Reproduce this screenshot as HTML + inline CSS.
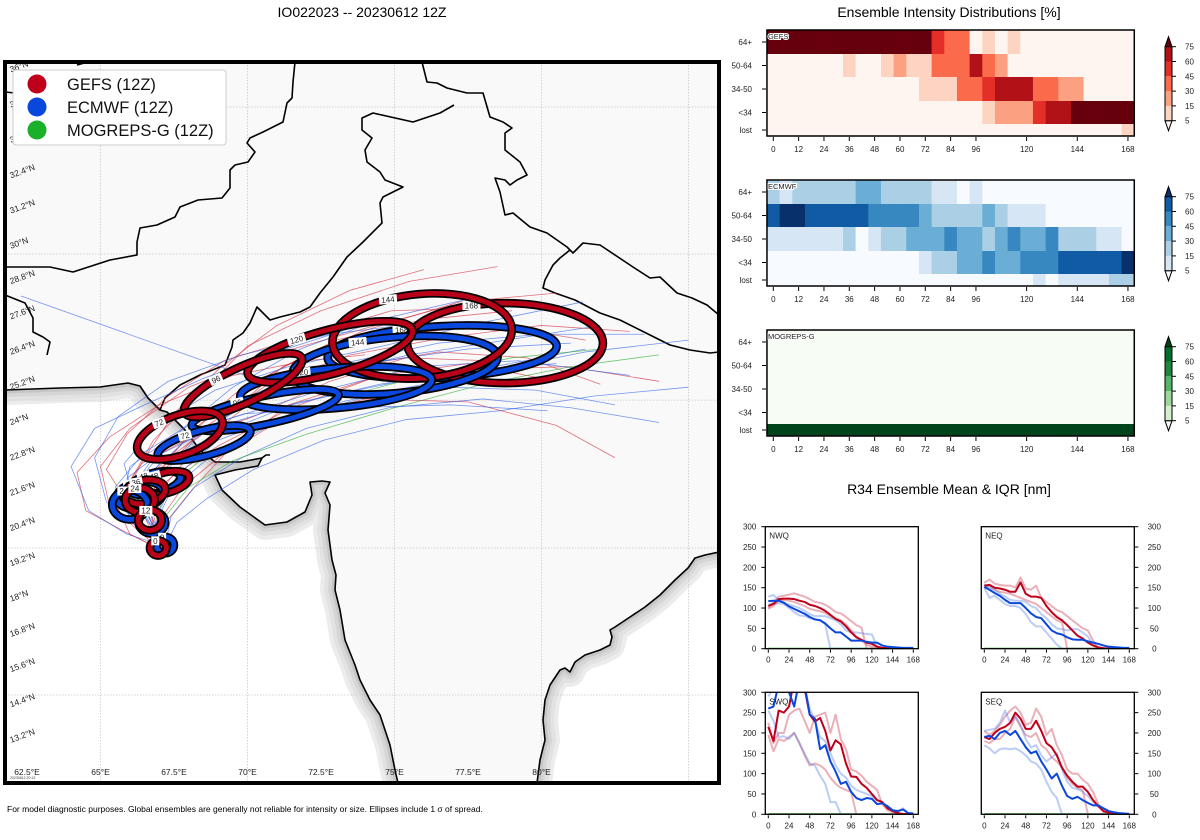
<!DOCTYPE html>
<html><head><meta charset="utf-8"><style>
html,body{margin:0;padding:0;background:#fff;}
svg{display:block;font-family:"Liberation Sans","DejaVu Sans",sans-serif;}
</style></head><body>
<svg id="root" width="1200" height="840" viewBox="0 0 1200 840" xmlns="http://www.w3.org/2000/svg">
<defs>
<clipPath id="mapclip"><rect x="5" y="62" width="714" height="721"/></clipPath>
</defs>
<text x="362" y="17" font-size="14" text-anchor="middle">IO022023 -- 20230612 12Z</text>
<text x="949" y="17" font-size="14" text-anchor="middle">Ensemble Intensity Distributions [%]</text>
<text x="949" y="494" font-size="14" text-anchor="middle">R34 Ensemble Mean &amp; IQR [nm]</text>
<text x="7" y="812" font-size="8.5">For model diagnostic purposes. Global ensembles are generally not reliable for intensity or size. Ellipses include 1 σ of spread.</text>
<g id="map"></g>
<g id="heat"></g>
<g id="r34"></g>
</svg>
<script>
const NS="http://www.w3.org/2000/svg";
function mk(tag,attrs,parent){const e=document.createElementNS(NS,tag);for(const k in attrs)e.setAttribute(k,attrs[k]);if(parent)parent.appendChild(e);return e;}
function pts(a){return a.map(p=>p[0]+","+p[1]).join(" ");}

// ---------------- MAP DATA ----------------
const lonTicks=[62.5,65,67.5,70,72.5,75,77.5,80];
const latTicks=[13.2,14.4,15.6,16.8,18,19.2,20.4,21.6,22.8,24,25.2,26.4,27.6,28.8,30,31.2,32.4,33.6,34.8,36];
const gridLons=[65,70,75,80,85];
const gridLats=[14.73,19.73,24.76,29.73,34.73];
const gefsEll=[ // lon,lat,rx(deg),ry(deg),rot,label
 [66.96,19.73,0.28,0.26,0,"0"],[66.68,20.68,0.4,0.35,0,"12"],[66.34,21.36,0.5,0.42,0,"24"],
 [66.51,21.64,0.7,0.4,-10,"36"],[67.19,21.94,0.85,0.35,-15,"48"],[67.7,23.57,1.53,0.68,-20,"72"],
 [69.85,25.27,2.2,0.61,-25,"96"],[72.81,26.4,2.9,0.75,-15,"120"],[75.94,26.94,3.06,1.43,-5,"144"],
 [78.76,26.7,3.33,1.36,0,"168"]];
const ecmEll=[
 [67.2,19.83,0.3,0.28,0,"0"],[66.75,20.6,0.45,0.38,0,"12"],[66.0,21.2,0.6,0.5,0,"24"],
 [66.34,21.53,0.8,0.45,-10,"36"],[66.85,21.94,0.9,0.35,-15,"48"],[68.52,23.3,1.63,0.44,-15,"72"],
 [70.6,24.42,2.55,0.48,-12,"96"],[73.01,25.17,3.27,0.68,-5,"120"],[75.02,25.95,3.5,0.95,-5,"144"],
 [76.62,26.4,3.9,0.88,-3,"168"]];
const gefsTracks=[
 [[67,19.7],[66.5,20.8],[66.2,21.6],[67,22.5],[68.5,24],[70.5,25.5],[73,26.8],[76,27.5],[79,27.8]],
 [[67,19.7],[66.8,20.6],[66.6,21.5],[67.5,22.2],[69,23.2],[71.5,24.5],[74.5,25.6],[77.5,26],[80,25.5]],
 [[67,19.7],[66.4,20.5],[65.8,21.5],[66.5,22.8],[67.5,24.3],[69,25.8],[71,27.3],[73.5,28.5],[76,29.2]],
 [[67,19.7],[66.9,20.9],[67.3,22],[68.2,23.1],[70,24.6],[73,25.8],[76.5,26.4],[79.5,26.2],[82,25.3]],
 [[67,19.7],[66.2,20.4],[65.3,21.2],[65,22.5],[66,23.8],[68,25.2],[70.5,26.2],[74,27.2],[77,28]],
 [[67,19.7],[66.6,21],[67,22.3],[68,23.6],[69.6,25],[72,26.3],[75,27],[78.5,27.3],[81.5,26.8]],
 [[67,19.7],[66.3,20.7],[66,22],[66.8,23.4],[68.2,24.8],[70,26.6],[72.5,27.8],[75.5,28.8],[78.5,29.3]],
 [[67,19.7],[67.1,20.8],[67.8,21.8],[69,22.8],[71,24],[74,24.8],[77.5,24.7],[80.5,23.9],[82.5,22.8]],
 [[67,19.7],[65.8,20.3],[64.5,21],[64.2,22.3],[65.3,23.5],[67,24.6],[69.5,25.6],[72,26.1],[74,26.3]],
 [[67,19.7],[66.7,20.9],[66.9,22.1],[68.5,23.8],[70.7,25.3],[73.5,26.3],[76.8,26.9],[80,27.3],[83,27.1]],
 [[67,19.7],[66,20.2],[65.5,21.3],[66.4,22.6],[67.9,23.4],[70.2,24.2],[72.8,25.4],[75.4,26.2],[78.2,26.1]],
 [[67,19.7],[66.9,20.5],[66.5,21.9],[67.6,23],[69.4,24.3],[71.2,25.9],[73.9,27.1],[77.2,28.1],[80.5,28.4]],
 [[67,19.7],[66.1,21],[65.2,22.4],[65.9,23.6],[67.3,24.9],[69.2,26.1],[71.8,26.9],[74.9,27.8],[78,27.9]],
 [[67,19.7],[67.3,20.7],[68.1,21.7],[69.3,23],[71.4,24.6],[74.2,25.5],[77.6,25.8],[80.9,25.9],[84,25.4]]];
const ecmTracks=[
 [[67.2,19.8],[66.6,20.7],[66.2,21.5],[67,22.6],[69,23.6],[71.5,24.6],[74.5,25.3],[77.5,25.8],[80.5,26]],
 [[67.2,19.8],[66,20.8],[65.5,21.8],[66.5,23],[68.5,24.2],[71,25.3],[74,26],[77.5,26.5],[81,26.7]],
 [[67.2,19.8],[66.9,20.6],[67.4,21.7],[68.8,22.9],[71,24],[73.8,24.8],[76.8,25.2],[79.8,25.1],[82.5,24.6]],
 [[67.2,19.8],[66.3,20.4],[65.2,21.3],[64.8,22.8],[65.6,24.2],[67.3,25.4],[69.8,26.3],[72.8,27],[76,27.4]],
 [[67.2,19.8],[66.5,21],[66.6,22.2],[67.8,23.3],[69.8,24.5],[72.5,25.6],[75.5,26.3],[78.8,26.8],[82,27.3]],
 [[67.2,19.8],[67.4,20.8],[68.2,21.8],[69.8,22.8],[72,23.8],[74.8,24.5],[78,24.8],[81,24.5],[84,24]],
 [[67.2,19.8],[65.9,20.2],[64.6,21],[64,22.5],[64.8,23.8],[66.5,24.6],[68.5,25.5],[71,26.4],[73.5,27.2]],
 [[67.2,19.8],[66.7,20.9],[66.9,22],[68.2,23.4],[70.2,24.9],[73.2,26],[76.5,26.7],[80,27],[83.5,27]],
 [[67.2,19.8],[66.4,20.6],[66,21.7],[66.8,22.8],[68.8,23.8],[71.8,24.7],[75.2,25.4],[78.4,25.9],[81.5,26.5]],
 [[67.2,19.8],[66.8,20.5],[66.3,21.4],[66.6,22.4],[67.8,23.8],[69.5,25.2],[71.8,26.5],[74.5,27.5],[77.5,28.2]],
 [[62.3,28.3],[71.6,25.0]],
 [[67.2,19.8],[67,21],[67.6,22.2],[69,23.4],[71.5,24.3],[74.5,25],[78,25.7],[81.5,26.4],[85,26.8]],
 [[67.2,19.8],[66.1,20.9],[65.9,22.1],[67.2,23.1],[69.3,24.1],[72.2,25],[75.8,25.9],[79.2,26.1],[83,25.6]],
 [[67.2,19.8],[66.6,20.3],[65.7,21.1],[66,22.5],[67.4,23.5],[69.9,24.3],[73.4,24.5],[76.9,24.6],[80.2,24.4]],
 [[67.2,19.8],[67.6,20.6],[68.6,21.4],[70.2,22.4],[72.6,23.4],[75.4,24.1],[78.6,24.4],[81.8,24.9],[85,25.2]],
 [[67.2,19.8],[66.2,21.2],[65.8,22.6],[66.9,23.9],[68.9,25.1],[71.4,25.9],[74.6,26.6],[78,27.4],[81.4,28.1]]];
const mogTracks=[
 [[67.1,19.8],[66.9,20.8],[67.3,21.8],[68.5,22.8],[70.5,23.8],[73,24.8],[76,25.6],[79,26.2],[82,26.5]],
 [[67.1,19.8],[67.2,20.8],[68,21.8],[69.5,22.7],[72,23.6],[75,24.5],[78,25.3],[81,25.9],[84,26.3]]];

const MX=lon=>27+(lon-62.5)*29.4;
const MY=lat=>740-(lat-13.2)*29.4;

// geography (decorative, pixel space)
const arabCoast=[[5,390],[60,388],[100,387],[128,383],[140,386],[148,398],[160,410],[167,412],[185,430],[200,450],[215,462],[240,462],[262,458],[258,466],[235,470],[215,475],[222,490],[240,507],[265,525],[287,522],[305,512],[312,495],[310,482],[322,481],[330,482],[325,493],[330,505],[328,530],[332,560],[336,575],[335,590],[340,610],[345,640],[355,665],[360,680],[370,700],[380,715],[390,745],[395,770],[398,783]];
const bayCoast=[[537,783],[540,760],[545,740],[543,720],[545,700],[550,685],[560,670],[565,668],[570,672],[575,662],[585,655],[600,650],[610,645],[612,637],[610,630],[615,627],[630,617],[645,607],[660,595],[675,580],[688,568],[695,558],[705,555],[719,552]];
const borders=[
 [[295,62],[293,82],[292,98],[287,103],[283,122],[277,125],[263,132],[250,138],[247,143],[255,152],[248,162],[235,165],[230,170],[230,188],[222,198],[198,200],[180,207],[175,217],[157,225],[140,228],[137,242],[137,255],[110,260],[73,272],[50,267],[5,267]],
 [[5,295],[25,303],[33,318],[33,332],[43,337],[50,342],[47,355]],
 [[77,65],[88,62]],[[5,92],[15,93]],
 [[454,105],[440,113],[413,122],[373,113],[362,118],[362,130],[372,138],[365,150],[367,162],[380,172],[385,180],[403,187],[383,197],[380,203],[382,223],[363,242],[347,257],[333,277],[320,293],[310,307],[300,312],[280,317],[270,320],[257,307],[250,323],[243,333],[233,340],[232,347],[225,365],[200,375],[180,385],[165,398],[160,410]],
 [[422,62],[427,82],[437,83],[447,88],[467,93],[483,93],[490,117],[503,122],[512,128],[505,133],[505,150],[520,162],[527,175],[517,180],[510,185],[505,180],[495,178],[500,192],[505,215],[513,213],[530,227],[547,233],[567,247],[573,253],[583,243],[600,245],[633,267],[650,278],[660,277],[677,293],[692,298],[707,305],[719,315]],
 [[570,250],[560,258],[553,265],[545,280],[543,288],[555,293],[575,300],[600,313],[620,320],[650,335],[670,345],[690,350],[710,353],[719,352]],
 [[262,458],[266,455],[270,455]]];

function buildMap(){
 const g=document.getElementById('map');
 const sea=mk('rect',{x:5,y:62,width:714,height:721,fill:'#ffffff'},g);
 
 
 const clipG=mk('g',{'clip-path':'url(#mapclip)'},g);
 [[30,'#ececec'],[22,'#e2e2e2'],[14,'#d6d6d6'],[7,'#c6c6c6']].forEach(([w,c])=>{
  mk('polyline',{points:pts(arabCoast),fill:'none',stroke:c,'stroke-width':w,'stroke-linejoin':'round'},clipG);
  mk('polyline',{points:pts(bayCoast),fill:'none',stroke:c,'stroke-width':w,'stroke-linejoin':'round'},clipG);
 });
 const landPts=[[5,62],[719,62]].concat(bayCoast.slice().reverse()).concat(arabCoast.slice().reverse()).concat([[5,390]]);
 const land=mk('polygon',{points:pts(landPts),fill:'#f9f9f9'},clipG);
 
 
 gridLons.forEach(l=>{const ln=mk('line',{x1:MX(l),x2:MX(l),y1:62,y2:783,stroke:'#c8c8c8','stroke-width':0.8,'stroke-dasharray':'1.5,1.5'},clipG);});
 gridLats.forEach(l=>{const ln=mk('line',{x1:5,x2:719,y1:MY(l),y2:MY(l),stroke:'#c8c8c8','stroke-width':0.8,'stroke-dasharray':'1.5,1.5'},clipG);});
 [arabCoast,bayCoast].forEach(c=>{const p=mk('polyline',{points:pts(c),fill:'none',stroke:'#000','stroke-width':1.6,'stroke-linejoin':'round'},clipG);});
 borders.forEach(c=>{const p=mk('polyline',{points:pts(c),fill:'none',stroke:'#000','stroke-width':1.6,'stroke-linejoin':'round'},clipG);});
 const trackSets=[[gefsTracks,'#d62438'],[ecmTracks,'#2a5ee8'],[mogTracks,'#22aa22']];
 trackSets.forEach(([set,col])=>set.forEach(t=>{
  const p=mk('polyline',{points:pts(t.map(q=>[MX(q[0]),MY(q[1])])),fill:'none',stroke:col,'stroke-width':0.8,opacity:0.65},clipG);
  
  
 }));
 function drawEll(e,col){
  const cx=MX(e[0]),cy=MY(e[1]),rx=e[2]*29.4,ry=e[3]*29.4;
  const eg=mk('g',{transform:`rotate(${e[4]} ${cx} ${cy})`},clipG);
  
  
  mk('ellipse',{cx,cy,rx,ry,fill:'none',stroke:'#000','stroke-width':8.5},eg);
  mk('ellipse',{cx,cy,rx,ry,fill:'none',stroke:col,'stroke-width':5},eg);
  const a=-Math.PI/2-0.35;
  const lx=cx+rx*Math.cos(a),ly=cy+ry*Math.sin(a);
  const w=e[5].length*5+3;
  mk('rect',{x:lx-w/2,y:ly-4.5,width:w,height:9,fill:'#fff'},eg);
  const t=mk('text',{x:lx,y:ly+3,'font-size':8,'text-anchor':'middle',fill:'#222'},eg);
  t.textContent=e[5];
  
  
 }
 for(let i=gefsEll.length-1;i>=0;i--){drawEll(ecmEll[i],'#0a47dc');drawEll(gefsEll[i],'#b80018');}
 lonTicks.forEach(l=>{const t=mk('text',{x:MX(l),y:775,'font-size':8.5,'text-anchor':'middle',fill:'#222'},g);t.textContent=l+'°E';});
 latTicks.forEach(l=>{const y=MY(l);if(y<66)return;const t=mk('text',{x:10,y:y+3,'font-size':8.5,fill:'#222',transform:`rotate(-20 10 ${y})`},g);t.textContent=(Number.isInteger(l)?l:l.toFixed(1))+'°N';});
 const st=mk('text',{x:10,y:779,'font-size':3.5,fill:'#333'},g);st.textContent='20230612 20:13';
 const fr=mk('rect',{x:5,y:62,width:714,height:721,fill:'none',stroke:'#000','stroke-width':4},g);
 
 const lg=mk('g',{},g);
 
 mk('rect',{x:13,y:70,width:213,height:75,rx:3,fill:'#fff',stroke:'#ccc','stroke-width':1},lg);
 [['GEFS (12Z)','#c0001a'],['ECMWF (12Z)','#0a47dc'],['MOGREPS-G (12Z)','#1ab02a']].forEach((e,i)=>{
  const en=mk('g',{},lg);
  mk('circle',{cx:37,cy:84+i*23,r:9.5,fill:e[1]},en);
  const t=mk('text',{x:67,y:90+i*23,'font-size':16.5,fill:'#111'},en);t.textContent=e[0];
 });
}
buildMap();

// ---------------- HEATMAP DATA ----------------
const heatHours=[0,6,12,18,24,30,36,42,48,54,60,66,72,78,84,90,96,102,108,114,120,126,132,138,144,150,156,162,168];
const heatRows=["64+","50-64","34-50","<34","lost"];
const heatTickHours=[0,12,24,36,48,60,72,84,96,120,144,168];
const cbLevels=[5,15,30,45,60,75];
const gefs64=[90,90,90,90,90,90,90,90,90,90,90,90,90,52,38,38,2,10,2,10,2,2,2,2,2,2,2,2,2];
const gefs50=[2,2,2,2,2,2,10,2,2,10,22,10,10,38,38,38,68,38,22,2,2,2,2,2,2,2,2,2,2];
const gefs34=[2,2,2,2,2,2,2,2,2,2,2,2,10,10,10,38,38,52,68,68,68,38,38,22,22,2,2,2,2];
const gefsTS=[2,2,2,2,2,2,2,2,2,2,2,2,2,2,2,2,2,10,22,22,22,52,68,68,90,90,90,90,90];
const gefsLost=[2,2,2,2,2,2,2,2,2,2,2,2,2,2,2,2,2,2,2,2,2,2,2,2,2,2,2,2,10];
const ecm64=[22,10,22,22,22,22,22,38,38,22,22,22,22,10,10,2,10,2,2,2,2,2,2,2,2,2,2,2,2];
const ecm50=[68,90,90,68,68,68,68,68,52,52,52,52,38,22,22,22,22,38,22,10,10,10,2,2,2,2,2,2,2];
const ecm34=[10,10,10,10,10,10,22,2,10,22,22,38,38,38,52,38,38,22,38,52,38,38,52,22,22,22,10,10,2];
const ecmTS=[2,2,2,2,2,2,2,2,2,2,2,2,10,22,22,38,38,52,38,38,52,52,52,68,68,68,68,68,90];
const ecmLost=[2,2,2,2,2,2,2,2,2,2,2,2,2,2,2,2,2,2,2,2,2,10,2,10,10,10,10,22,22];
const mog64=[2,2,2,2,2,2,2,2,2,2,2,2,2,2,2,2,2,2,2,2,2,2,2,2,2,2,2,2,2];
const mog50=[2,2,2,2,2,2,2,2,2,2,2,2,2,2,2,2,2,2,2,2,2,2,2,2,2,2,2,2,2];
const mog34=[2,2,2,2,2,2,2,2,2,2,2,2,2,2,2,2,2,2,2,2,2,2,2,2,2,2,2,2,2];
const mogTS=[2,2,2,2,2,2,2,2,2,2,2,2,2,2,2,2,2,2,2,2,2,2,2,2,2,2,2,2,2];
const mogLost=[95,95,95,95,95,95,95,95,95,95,95,95,95,95,95,95,95,95,95,95,95,95,95,95,95,95,95,95,95];

const palReds=['#fff5f0','#fdd4c2','#fca082','#fb6a4a','#e32f27','#b11218','#67000d'];
const palBlues=['#f7fbff','#d6e6f4','#abd0e6','#6aaed6','#3787c0','#105ba4','#08306b'];
const palGreens=['#f7fcf5','#d5efcf','#9ed798','#54b567','#1d8641','#006d2c','#00441b'];
function lvl(v){let i=0;while(i<cbLevels.length&&v>=cbLevels[i])i++;return i;}
const HX=t=>773.3+t*2.111;

function heatPanel(top,name,rows,pal){
 const g=mk('g',{},document.getElementById('heat'));
 
 
 const edges=[0,24,47,71,94,106];
 rows.forEach((arr,r)=>{
  arr.forEach((v,k)=>{
   const t=heatHours[k];
   const c=mk('rect',{x:HX(t-3),y:top+edges[r],width:HX(t+3)-HX(t-3)+0.4,height:edges[r+1]-edges[r]+0.4,fill:pal[lvl(v)]},g);
   
   
  });
  const yc=top+(edges[r]+edges[r+1])/2;
  mk('line',{x1:762,x2:766,y1:yc,y2:yc,stroke:'#000','stroke-width':1},g);
  const lb=mk('text',{x:752,y:yc+3,'font-size':8,'text-anchor':'end',fill:'#222'},g);
  lb.textContent=heatRows[r];
  
  
 });
 mk('rect',{x:HX(-3),y:top,width:HX(171)-HX(-3),height:106,fill:'none',stroke:'#000','stroke-width':1.5},g);
 heatTickHours.forEach(t=>{
  mk('line',{x1:HX(t),x2:HX(t),y1:top+107,y2:top+111,stroke:'#000','stroke-width':1},g);
  const tl=mk('text',{x:HX(t),y:top+122,'font-size':8,'text-anchor':'middle',fill:'#222'},g);
  tl.textContent=t;
  
  
 });
 const nl=mk('text',{x:HX(-3)+1,y:top+9,'font-size':7.5,fill:'#222',stroke:'#fff','stroke-width':2,'paint-order':'stroke'},g);
 nl.textContent=name;
 
 
 const cb=mk('g',{},g);
 
 
 const cy=v=>top+90.7-(cbLevels.indexOf(v))*14.8;
 const x0=1165,x1=1172;
 mk('polygon',{points:`${x0},${cy(5)} ${x1},${cy(5)} ${(x0+x1)/2},${cy(5)+10}`,fill:pal[0],stroke:'#000','stroke-width':1},cb);
 mk('polygon',{points:`${x0},${cy(75)} ${x1},${cy(75)} ${(x0+x1)/2},${cy(75)-10}`,fill:pal[6],stroke:'#000','stroke-width':1},cb);
 for(let i=0;i<5;i++){mk('rect',{x:x0,y:cy(cbLevels[i+1]),width:x1-x0,height:14.8,fill:pal[i+1]},cb);}
 mk('rect',{x:x0,y:cy(75),width:x1-x0,height:cy(5)-cy(75),fill:'none',stroke:'#000','stroke-width':1},cb);
 cbLevels.forEach(v=>{
  mk('line',{x1:x1,x2:x1+4,y1:cy(v),y2:cy(v),stroke:'#000','stroke-width':1},cb);
  const tl=mk('text',{x:1185,y:cy(v)+3,'font-size':8,fill:'#222'},cb);
  tl.textContent=v;
 });
}
heatPanel(30,'GEFS',[gefs64,gefs50,gefs34,gefsTS,gefsLost],palReds);
heatPanel(180,'ECMWF',[ecm64,ecm50,ecm34,ecmTS,ecmLost],palBlues);
heatPanel(330,'MOGREPS-G',[mog64,mog50,mog34,mogTS,mogLost],palGreens);

// ---------------- R34 DATA ----------------
const r34Hours=[0,6,12,18,24,30,36,42,48,54,60,66,72,78,84,90,96,102,108,114,120,126,132,138,144,150,156,162,168];
const r34XTicks=[0,24,48,72,96,120,144,168];
const r34YTicks=[0,50,100,150,200,250,300];
const nwqRedMean=[105,110,122,123,123,122,118,115,108,105,100,93,83,73,67,55,40,28,22,15,12,5,2,1,0,0,0,0,0];
const nwqRedHi=[100,115,128,130,133,136,132,128,122,115,113,108,100,90,87,78,68,58,52,0,0,0,0,0,0,0,0,0,0];
const nwqRedLo=[98,105,118,120,118,115,110,105,98,95,92,88,80,75,70,60,45,30,20,10,5,3,0,0,0,0,0,0,0];
const nwqBlueMean=[117,118,118,113,104,98,92,86,78,72,70,62,50,40,40,30,20,20,20,17,15,15,8,5,4,3,2,2,2];
const nwqBlueHi=[128,132,120,113,108,105,100,93,85,80,80,80,75,70,60,45,40,40,38,36,35,5,3,2,1,0,0,0,0];
const nwqBlueLo=[110,110,112,110,100,90,82,80,75,72,70,60,0,0,0,0,0,0,0,0,0,0,0,0,0,0,0,0,0];
const neqRedMean=[155,157,150,148,145,140,140,163,135,128,128,125,105,90,78,70,58,45,32,25,15,8,3,1,0,0,0,0,0];
const neqRedHi=[162,170,160,157,155,155,150,175,148,145,155,125,115,105,95,90,80,70,60,50,45,20,0,0,0,0,0,0,0];
const neqRedLo=[150,155,145,140,138,135,130,125,120,115,110,100,90,80,70,65,0,0,0,0,0,0,0,0,0,0,0,0,0];
const neqBlueMean=[152,145,137,130,120,112,112,112,100,87,78,75,60,45,38,35,28,23,22,22,18,15,12,8,5,4,3,2,2];
const neqBlueHi=[158,150,145,135,128,120,118,118,115,105,100,85,75,60,50,48,45,48,48,40,30,10,5,2,1,0,0,0,0];
const neqBlueLo=[150,125,130,120,110,105,105,100,85,65,55,55,40,25,10,0,0,0,0,0,0,0,0,0,0,0,0,0,0];
const swqRedMean=[215,180,255,250,265,330,330,310,245,228,237,205,157,182,172,125,93,92,75,65,50,35,30,15,8,3,1,0,0];
const swqRedHi=[225,175,200,200,245,255,260,230,200,240,245,250,200,245,185,160,110,105,95,80,70,60,25,10,5,0,0,0,0];
const swqRedLo=[195,155,185,180,190,200,175,145,120,125,120,110,90,75,65,60,55,0,0,0,0,0,0,0,0,0,0,0,0];
const swqBlueMean=[260,265,320,310,300,265,330,320,245,235,160,170,130,105,75,80,55,40,35,40,38,25,27,20,10,8,12,3,2];
const swqBlueHi=[290,310,330,320,310,320,330,310,260,230,190,180,150,120,100,90,70,60,55,50,45,35,30,20,10,5,15,3,2];
const swqBlueLo=[255,230,190,192,185,200,175,150,125,120,95,75,30,30,0,0,0,0,0,0,0,0,0,0,0,0,0,0,0];
const seqRedMean=[190,185,200,210,215,225,250,235,210,210,230,205,175,165,145,115,95,80,68,68,55,35,20,8,4,2,1,0,0];
const seqRedHi=[205,195,205,220,240,255,265,250,220,225,260,240,195,210,170,145,110,100,100,85,75,55,25,5,0,0,0,0,0];
const seqRedLo=[180,175,185,185,200,210,240,215,195,190,200,170,160,140,130,115,90,75,65,60,0,0,0,0,0,0,0,0,0];
const seqBlueMean=[190,193,185,200,205,195,205,185,165,150,155,130,110,88,100,70,45,38,43,35,28,22,22,15,8,5,3,2,1];
const seqBlueHi=[205,208,210,225,255,225,240,220,185,165,170,145,130,140,150,110,80,65,62,55,45,30,20,10,5,3,2,1,0];
const seqBlueLo=[170,162,150,160,162,160,162,155,145,130,125,110,80,55,40,0,0,0,0,0,0,0,0,0,0,0,0,0,0];
const greenZero=[0,0,0,0,0,0,0,0,0,0,0,0,0,0,0,0,0,0,0,0,0,0,0,0,0,0,0,0,0];

let clipN=0;
function r34Panel(left,bottom,label,right,series){
 const g=mk('g',{},document.getElementById('r34'));
 
 
 const X=t=>left+3+t*0.8631, Y=v=>bottom-v*0.4067;
 const fx=left,fw=153,fy=Y(300),fh=Y(0)-Y(300);
 const id='r34c'+(clipN++);
 const cp=mk('clipPath',{id},g);mk('rect',{x:fx,y:fy,width:fw,height:fh},cp);
 mk('rect',{x:fx,y:fy,width:fw,height:fh,fill:'#fff'},g);
 const lg=mk('g',{'clip-path':`url(#${id})`},g);
 series.forEach(([arr,col,w,nm])=>{
  const p=mk('polyline',{points:pts(arr.map((v,i)=>[X(r34Hours[i]),Y(v)])),fill:'none',stroke:col,'stroke-width':w,'stroke-linejoin':'round'},lg);
  
  
 });
 mk('rect',{x:fx,y:fy,width:fw,height:fh,fill:'none',stroke:'#000','stroke-width':1.3},g);
 r34XTicks.forEach(t=>{
  mk('line',{x1:X(t),x2:X(t),y1:bottom+1,y2:bottom+4,stroke:'#000'},g);
  const tl=mk('text',{x:X(t),y:bottom+14,'font-size':8,'text-anchor':'middle',fill:'#222'},g);
  tl.textContent=t;
  
  
 });
 r34YTicks.forEach(v=>{
  const ax=right?fx+fw:fx;
  mk('line',{x1:ax,x2:right?ax+4:ax-4,y1:Y(v),y2:Y(v),stroke:'#000'},g);
  const tl=mk('text',{x:right?ax+20:ax-9,y:Y(v)+3,'font-size':8,'text-anchor':right?'middle':'end',fill:'#222'},g);
  tl.textContent=v;
  
  
 });
 const nl=mk('text',{x:fx+4,y:fy+12,'font-size':8,fill:'#222'},g);
 nl.textContent=label;
 
 
}
const RI='rgba(208,80,100,0.45)',BI='rgba(60,110,230,0.35)',RM='#c0001a',BM='#0a47dc';
function sers(rm,rh,rl,bm,bh,bl){return [[greenZero,'#1a9a1a',2,'mogreps-mean'],[rh,RI,2,'gefs-iqr-upper'],[rl,RI,2,'gefs-iqr-lower'],[bh,BI,2,'ecmwf-iqr-upper'],[bl,BI,2,'ecmwf-iqr-lower'],[rm,RM,2,'gefs-mean'],[bm,BM,2,'ecmwf-mean']];}
r34Panel(765.3,648.7,'NWQ',false,sers(nwqRedMean,nwqRedHi,nwqRedLo,nwqBlueMean,nwqBlueHi,nwqBlueLo));
r34Panel(981.3,648.7,'NEQ',true,sers(neqRedMean,neqRedHi,neqRedLo,neqBlueMean,neqBlueHi,neqBlueLo));
r34Panel(765.3,814.3,'SWQ',false,sers(swqRedMean,swqRedHi,swqRedLo,swqBlueMean,swqBlueHi,swqBlueLo));
r34Panel(981.3,814.3,'SEQ',true,sers(seqRedMean,seqRedHi,seqRedLo,seqBlueMean,seqBlueHi,seqBlueLo));
</script>
</body></html>
